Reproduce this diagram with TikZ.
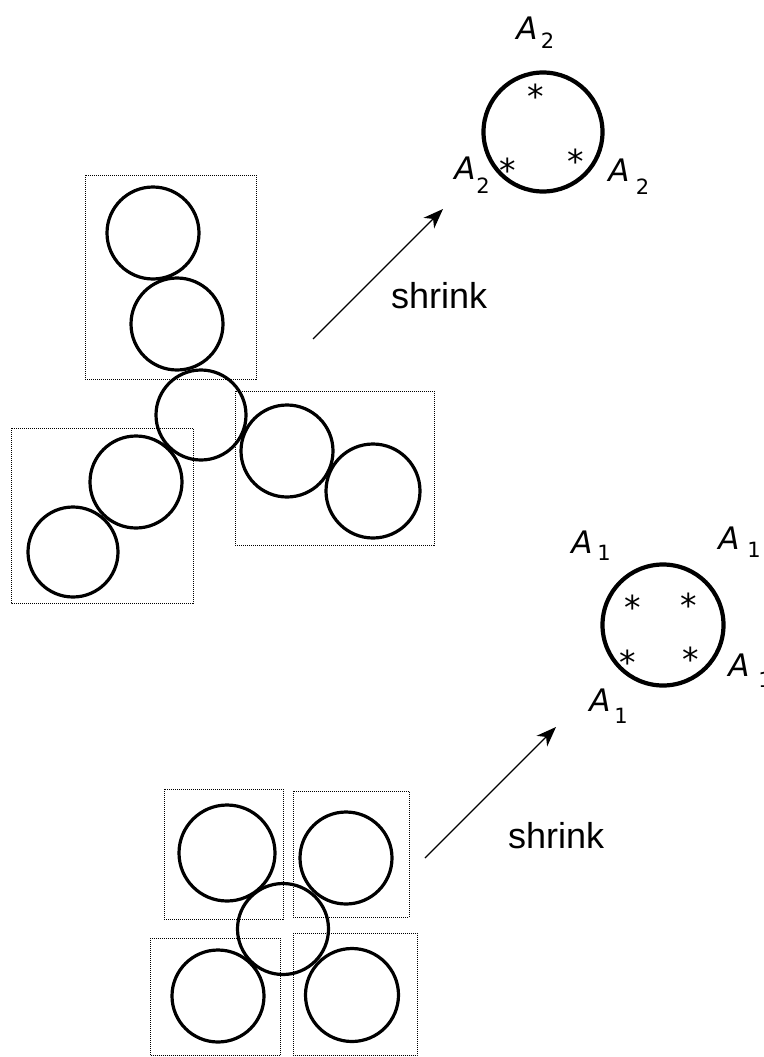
\documentclass[tikz,border=0pt]{standalone}
\usepackage{fontspec}
\setmainfont{DejaVu Sans}
\newfontfamily\shrinkfont{Liberation Sans}
\usetikzlibrary{arrows.meta}
\begin{document}
\begin{tikzpicture}[x=1pt,y=-1pt,
  ring/.style={circle,draw,line width=3.2pt,minimum size=92pt,inner sep=0pt},
  bigring/.style={circle,draw,line width=4.2pt,minimum size=119pt,inner sep=0pt},
  frame/.style={draw=black,line width=1pt,dash pattern=on 1pt off 1pt},
  arr/.style={line width=1.3pt,-{Stealth[length=20pt,width=15pt,inset=6pt]}},
  word/.style={font=\shrinkfont\fontsize{36}{36}\selectfont,anchor=base west,inner sep=0pt},
  labA/.style={font=\itshape\fontsize{31}{31}\selectfont,inner sep=0pt},
  labS/.style={font=\fontsize{21}{21}\selectfont,inner sep=0pt},
  star/.style={font=\fontsize{33}{33}\selectfont,inner sep=0pt},
]
\newcommand{\starmark}{\raisebox{-0.595em}[0.165em][0.165em]{*}}
\useasboundingbox (0,0) rectangle (763,1057);
% ---- upper group ----
\draw[frame] (85,175) rectangle (256,379);
\draw[frame] (11,428) rectangle (193,603);
\draw[frame] (235,391) rectangle (434,545);
\node[ring] (c1) at (153,233) {};
\node[ring] (c2) at (177,324) {};
\node[ring, minimum size=90pt] (c3) at (201,415) {};
\node[ring] (c4) at (136,482) {};
\node[ring, minimum size=90pt] (c5) at (73,552) {};
\node[ring] (c6) at (287,451) {};
\node[ring, minimum size=94pt] (c7) at (373,491) {};
\coordinate (a1s) at (313,339);
\coordinate (a1e) at (443,209);
\draw[arr] (a1s) -- (a1e);
\node[word] (w1) at (391,308) {shrink};
% ---- upper result ----
\node[bigring] (r2) at (543,132) {};
\node[star] (s21) at (536,89) {\starmark};
\node[star] (s22) at (508,163) {\starmark};
\node[star] (s23) at (576,154) {\starmark};
\node[labA] (t2a) at (527,28) {A};
\node[labS] (t2s) at (547.5,41) {2};
\node[labA] (l2a) at (465,168) {A};
\node[labS] (l2s) at (483,186) {2};
\node[labA] (q2a) at (619,170) {A};
\node[labS] (q2s) at (642.5,186.5) {2};
% ---- lower group ----
\draw[frame] (164,789) rectangle (283,919);
\draw[frame] (293,791) rectangle (409,917);
\draw[frame] (150,938) rectangle (280,1055.5);
\draw[frame] (293,933) rectangle (417,1055.5);
\node[ring, minimum size=96pt] (b1) at (227,853) {};
\node[ring] (b2) at (346,858) {};
\node[ring, minimum size=91pt] (b3) at (283,929) {};
\node[ring] (b4) at (218,996) {};
\node[ring, minimum size=93pt] (b5) at (352,995) {};
\coordinate (a2s) at (425,858);
\coordinate (a2e) at (556,727);
\draw[arr] (a2s) -- (a2e);
\node[word] (w2) at (508,848) {shrink};
% ---- lower result ----
\node[bigring, minimum size=121pt] (r1) at (663,625) {};
\node[star] (s11) at (633,600) {\starmark};
\node[star] (s12) at (689,598) {\starmark};
\node[star] (s13) at (628,655) {\starmark};
\node[star] (s14) at (691,652) {\starmark};
\node[labA] (u1a) at (582,542) {A};
\node[labS] (u1s) at (604,553) {1};
\node[labA] (v1a) at (729,538) {A};
\node[labS] (v1s) at (754,550) {1};
\node[labA] (p1a) at (739,665) {A};
\node[labS] (p1s) at (765,680) {1};
\node[labA] (d1a) at (600,700) {A};
\node[labS] (d1s) at (621,716) {1};
\end{tikzpicture}
\end{document}
